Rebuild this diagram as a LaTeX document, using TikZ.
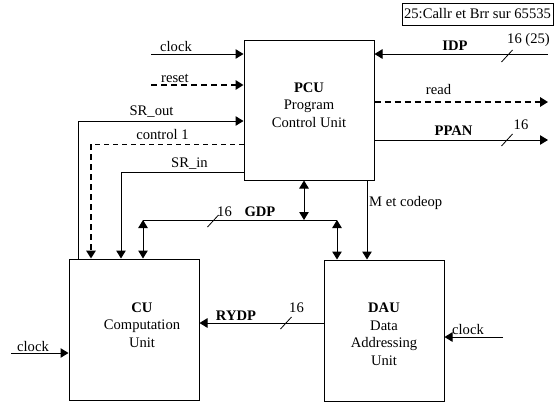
\documentclass[tikz,border=0pt]{standalone}
\usepackage{fontspec}
\setmainfont{Liberation Serif}
\usetikzlibrary{arrows.meta}
\tikzset{
  txt/.style={font=\fontsize{14.6}{17.5}\selectfont, inner sep=0pt},
  box/.style={draw, line width=1pt, inner sep=0pt},
  wire/.style={line width=1pt},
  arr/.style={wire, -{Triangle[length=8pt,width=9.5pt]}},
  biarr/.style={wire, {Triangle[length=8pt,width=9.5pt]}-{Triangle[length=8pt,width=9.5pt]}},
  thickdash/.style={line width=1.7pt, dash pattern=on 6pt off 4pt},
  thindash/.style={line width=1pt, dash pattern=on 5pt off 4pt},
  tick/.style={line width=0.8pt}
}
\begin{document}
\begin{tikzpicture}[x=1pt,y=-1pt]
\useasboundingbox (0,0) rectangle (556,402);
% boxes
\node[box, minimum width=130pt, minimum height=140pt] (PCU) at (309,110) {};
\node[box, minimum width=130pt, minimum height=141pt] (CU) at (134,329.5) {};
\node[box, minimum width=120pt, minimum height=141pt] (DAU) at (384,330.5) {};
\node[txt, align=center] (PCUt) at (309,105) {\textbf{PCU}\\Program\\Control Unit};
\node[txt, align=center] (CUt) at (142,325) {\textbf{CU}\\Computation\\Unit};
\node[txt, align=center] (DAUt) at (384,334) {\textbf{DAU}\\Data\\Addressing\\Unit};
\node[box, line width=0.7pt, minimum width=151pt, minimum height=22pt, txt] (note) at (477.5,14) {25:Callr et Brr sur 65535};
% free ends
\coordinate (clkA) at (151,54);
\coordinate (rst) at (151,85);
\coordinate (sro) at (78,121);
\coordinate (ctl) at (91,144);
\coordinate (sri) at (121,172);
\coordinate (g1) at (143,220);
\coordinate (g2) at (337,220);
\coordinate (g3) at (304,220);
\coordinate (mc) at (367,200);
\coordinate (ry) at (260,323);
\coordinate (dclk) at (503,337);
\coordinate (cclk) at (11,353);
\coordinate (idp) at (548,54);
\coordinate (rd) at (548,102);
\coordinate (pp) at (548,140);
% PCU inputs left
\draw[arr] (clkA) -- (PCU.west |- clkA);
\draw[thickdash, -{Triangle[length=8pt,width=9.5pt]}] (rst) -- (PCU.west |- rst);
\draw[arr] (CU.north -| sro) -- (sro) -- (PCU.west |- sro);
\draw[thindash] (PCU.west |- ctl) -- (ctl);
\draw[thickdash, -{Triangle[length=8pt,width=9.5pt]}] (ctl) -- (CU.north -| ctl);
\draw[arr] (PCU.west |- sri) -- (sri) -- (CU.north -| sri);
% GDP bus
\draw[wire] (g1) -- (g2);
\draw[biarr] (g1) -- (CU.north -| g1);
\draw[biarr] (g2) -- (DAU.north -| g2);
\draw[biarr] (PCU.south -| g3) -- (g3);
\draw[arr] (PCU.south -| mc) -- (DAU.north -| mc);
% RYDP
\draw[arr] (DAU.west |- ry) -- (CU.east |- ry);
% clocks
\draw[arr] (dclk) -- (DAU.east |- dclk);
\draw[arr] (cclk) -- (CU.west |- cclk);
% right side
\draw[arr] (idp) -- (PCU.east |- idp);
\draw[thickdash, -{Triangle[length=8pt,width=9.5pt]}] (PCU.east |- rd) -- (rd);
\draw[arr] (PCU.east |- pp) -- (pp);
% bus ticks
\draw[tick] (507,56) ++(-5.5,6) -- ++(11,-12);
\draw[tick] (507,140) ++(-5.5,6) -- ++(11,-12);
\draw[tick] (213,221) ++(-5.5,6) -- ++(11,-12);
\draw[tick] (286,323) ++(-5.5,6) -- ++(11,-12);
% labels
\node[txt, anchor=base] (l1) at (176,51) {clock};
\node[txt, anchor=base] (l2) at (175,82) {reset};
\node[txt, anchor=base] (l3) at (151.5,115) {SR\_out};
\node[txt, anchor=base] (l4) at (162.5,139) {control 1};
\node[txt, anchor=base] (l5) at (189.5,167) {SR\_in};
\node[txt, anchor=base] (l6) at (455,50) {\textbf{IDP}};
\node[txt, anchor=base] (l7) at (528.5,43) {16 (25)};
\node[txt, anchor=base] (l8) at (438.5,94) {read};
\node[txt, anchor=base] (l9) at (453.5,135) {\textbf{PPAN}};
\node[txt, anchor=base] (l10) at (521,129) {16};
\node[txt, anchor=base] (l11) at (224.5,216) {16};
\node[txt, anchor=base] (l12) at (260,216) {\textbf{GDP}};
\node[txt, anchor=base west] (l13) at (369,206) {M et codeop};
\node[txt, anchor=base] (l14) at (236,320) {\textbf{RYDP}};
\node[txt, anchor=base] (l15) at (296.5,312) {16};
\node[txt, anchor=base west] (l16) at (452,334) {clock};
\node[txt, anchor=base] (l17) at (33,351) {clock};
\end{tikzpicture}
\end{document}
